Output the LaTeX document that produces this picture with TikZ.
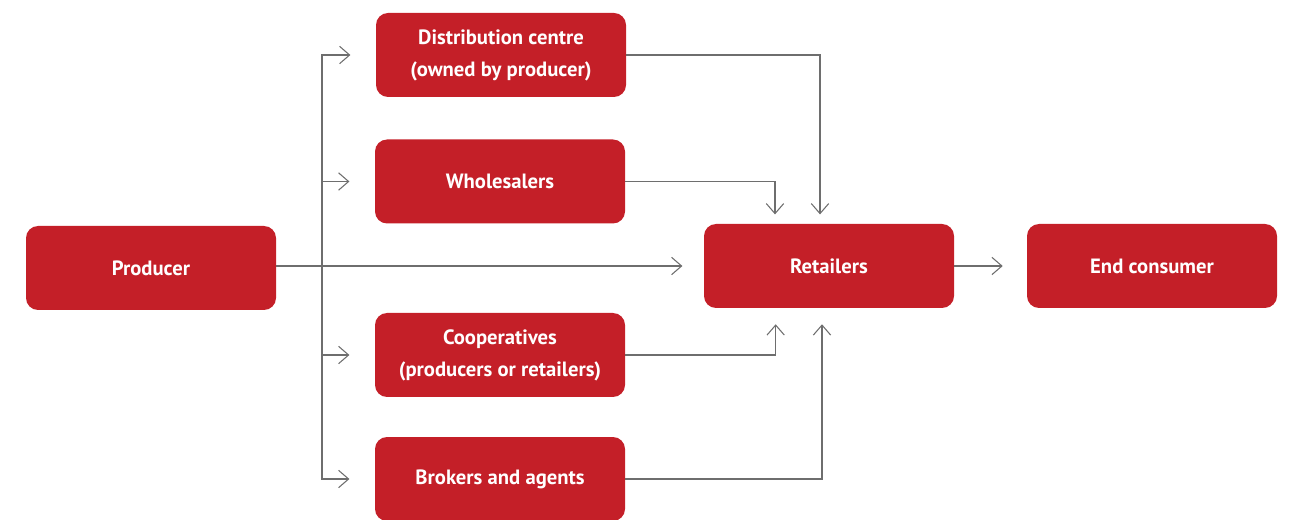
\documentclass[tikz,border=0pt]{standalone}
\usepackage{fontspec}
\setmainfont{PT Sans}
\usetikzlibrary{arrows.meta}
\definecolor{boxred}{HTML}{C41F28}
\definecolor{linegray}{HTML}{6E6E6E}
\begin{document}
\begin{tikzpicture}
[x = 0.75pt, y = -0.75pt,
box/.style = {fill = boxred, text = white, rounded corners = 9pt,
  minimum width = 187.5pt, minimum height = 63pt, align = center,
  font = \fontsize{15.5}{24}\selectfont\bfseries, inner sep = 0pt},
arr/.style = {draw = linegray, line width = 0.8pt,
  -{Straight Barb[length = 7.5pt, width = 13pt, line width = 0.8pt]}},
]
\useasboundingbox (0,0) rectangle (1293,520);
\node [box] (producer) at (151,268) {Producer};
\node [box] (dc) at (501,55) {Distribution centre\\(owned by producer)};
\node [box] (whole) at (500,181.5) {Wholesalers};
\node [box] (coop) at (500,355) {Cooperatives\\(producers or retailers)};
\node [box] (broker) at (500,479) {Brokers and agents};
\node [box] (retail) at (829,266) {Retailers};
\node [box] (consumer) at (1152,266) {End consumer};
\coordinate (split) at (322,266);
% producer to the middle boxes
\draw [arr, shorten > = 16pt] (producer.east |- retail) -- (retail.west);
\foreach \n in {dc, whole, coop, broker}
  \draw [arr, shorten > = 19pt] (split) |- (\n.west);
% middle boxes to retailers
\draw [arr, shorten > = 7pt] (dc.east) -| ([xshift = -6.75pt]retail.north);
\draw [arr, shorten > = 7pt] (whole.east) -| ([xshift = -40.5pt]retail.north);
\draw [arr, shorten > = 12pt] (coop.east) -| ([xshift = -40pt]retail.south);
\draw [arr, shorten > = 12pt] (broker.east) -| ([xshift = -5.25pt]retail.south);
\draw [arr, shorten > = 18pt] (retail) -- (consumer.west);
\end{tikzpicture}
\end{document}
